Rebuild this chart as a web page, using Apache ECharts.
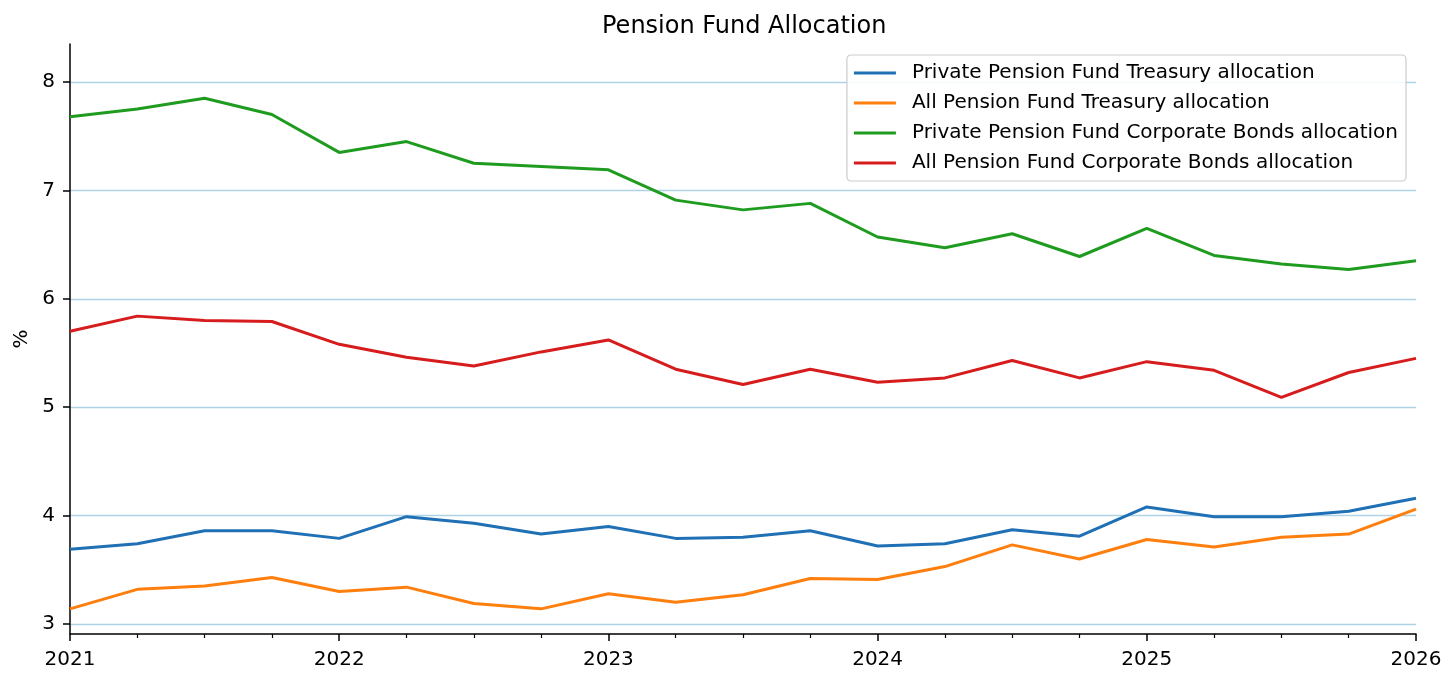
<!DOCTYPE html>
<html>
<head>
<meta charset="utf-8">
<script src="https://cdn.jsdelivr.net/npm/echarts@6/dist/echarts.min.js"></script>
<style>
html,body{margin:0;padding:0;background:#fff;}
#chart{width:1456px;height:685px;}
</style>
</head>
<body>
<div id="chart"></div>
<script>
var quarters = ['2021-Q1','2021-Q2','2021-Q3','2021-Q4','2022-Q1','2022-Q2','2022-Q3','2022-Q4',
  '2023-Q1','2023-Q2','2023-Q3','2023-Q4','2024-Q1','2024-Q2','2024-Q3','2024-Q4',
  '2025-Q1','2025-Q2','2025-Q3','2025-Q4','2026-Q1'];
var privateTreasury = [3.69,3.74,3.86,3.86,3.79,3.99,3.93,3.83,3.90,3.79,3.80,3.86,3.72,3.74,3.87,3.81,4.08,3.99,3.99,4.04,4.16];
var allTreasury = [3.14,3.32,3.35,3.43,3.30,3.34,3.19,3.14,3.28,3.20,3.27,3.42,3.41,3.53,3.73,3.60,3.78,3.71,3.80,3.83,4.06];
var privateCorporate = [7.68,7.75,7.85,7.70,7.35,7.45,7.25,7.22,7.19,6.91,6.82,6.88,6.57,6.47,6.60,6.39,6.65,6.40,6.32,6.27,6.35];
var allCorporate = [5.70,5.84,5.80,5.79,5.58,5.46,5.38,5.51,5.62,5.35,5.21,5.35,5.23,5.27,5.43,5.27,5.42,5.34,5.09,5.32,5.45];
var yTicks = [3,4,5,6,7,8];
var seriesNames = ['Private Pension Fund Treasury allocation','All Pension Fund Treasury allocation',
  'Private Pension Fund Corporate Bonds allocation','All Pension Fund Corporate Bonds allocation'];
var colors = ['#1f70b4','#ff7f0e','#1f9c1f','#d61c1c'];

function toYear(q){ var p=q.split('-Q'); return parseInt(p[0],10)+(parseInt(p[1],10)-1)/4; }
function pairs(vals){ return quarters.map(function(q,i){ return [toYear(q), vals[i]]; }); }

var font = 'DejaVu Sans';
var chart = echarts.init(document.getElementById('chart'), null, {renderer:'canvas'});
var allVals = [privateTreasury, allTreasury, privateCorporate, allCorporate];
chart.setOption({
  animation:false,
  color: colors,
  title:{text:'Pension Fund Allocation', left:597, top:10,
    textStyle:{fontFamily:font, fontSize:24, fontWeight:'normal', color:'#000'}},
  legend:{
    orient:'vertical', right:50, top:55,
    padding:[8,8,8,7],
    icon:'rect',
    itemWidth:42, itemHeight:3, itemGap:10,
    borderColor:'#cccccc', borderWidth:1.2, borderRadius:4,
    backgroundColor:'rgba(255,255,255,0.85)',
    textStyle:{fontFamily:font, fontSize:20, color:'#000', lineHeight:20, padding:[0,0,0,11]},
    data: seriesNames
  },
  grid:{left:70, right:40, top:44, bottom:51, containLabel:false},
  xAxis:{
    type:'value', min:2021, max:2026, interval:1,
    axisLine:{lineStyle:{color:'#000', width:1.5}},
    axisTick:{length:7, lineStyle:{color:'#000', width:1.5}},
    minorTick:{show:true, splitNumber:4, length:4, lineStyle:{color:'#000', width:1.2}},
    splitLine:{show:false},
    axisLabel:{margin:16, color:'#000', fontFamily:font, fontSize:20, formatter:function(v){return String(v);}}
  },
  yAxis:{
    type:'value', min:2.908, max:8.35,
    name:'%', nameLocation:'middle', nameGap:38,
    nameTextStyle:{fontFamily:font, fontSize:20, color:'#000'},
    axisLine:{show:true, lineStyle:{color:'#000', width:1.5}},
    axisTick:{show:true, length:7, customValues:yTicks, lineStyle:{color:'#000', width:1.5}},
    axisLabel:{margin:15, customValues:yTicks, color:'#000', fontFamily:font, fontSize:20},
    splitLine:{show:true, lineStyle:{color:'#aed3e6', width:1.3}}
  },
  series: seriesNames.map(function(n,i){
    return {name:n, type:'line', data:pairs(allVals[i]), symbol:'none',
      lineStyle:{width:3, color:colors[i]}, itemStyle:{color:colors[i]}};
  })
});
</script>
</body>
</html>
